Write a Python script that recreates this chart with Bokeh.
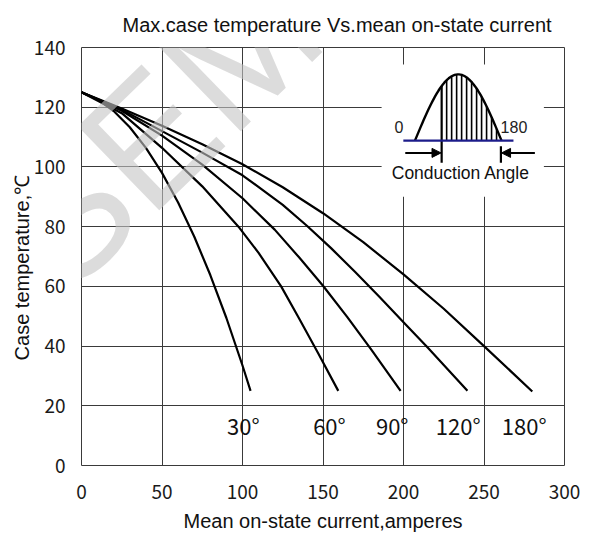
import numpy as np
from bokeh.plotting import figure
from bokeh.models import Range1d, Label, Arrow, NormalHead, FixedTicker
from bokeh.core.properties import value
from bokeh.embed import file_html
from bokeh.resources import INLINE

# ---------------- data ----------------
title_text = "Max.case temperature Vs.mean on-state current"
x_label = "Mean on-state current,amperes"
y_label = "Case temperature,\u2103"
x_ticks = [0, 50, 100, 150, 200, 250, 300]
y_ticks = [0, 20, 40, 60, 80, 100, 120, 140]

current_30 = [0, 10, 20, 30, 40, 50, 60, 70, 80, 90, 100, 105]
temp_30 = [125, 122.6, 118.7, 113.3, 106.4, 98, 88.1, 76.7, 63.8, 49.4, 33.5, 25]

current_60 = [0, 25, 50, 75, 97.5, 110, 124, 135, 147, 159.5]
temp_60 = [125, 118, 106.4, 93.5, 80, 71.2, 60, 49.4, 37.6, 25]

current_90 = [0, 25, 50, 75, 100, 120, 135, 150, 165, 180, 198.2]
temp_90 = [125, 118.8, 110.5, 100.8, 89.5, 79, 69.8, 60.2, 49.8, 38.8, 25]

current_120 = [0, 25, 50, 75, 100, 125, 140, 155, 170, 185, 200, 215, 239.7]
temp_120 = [125, 119.2, 112, 104.8, 97.2, 87.3, 80.3, 72.8, 64.8, 56.5, 48, 39.5, 25]

current_180 = [0, 25, 50, 75, 100, 125, 150, 175, 200, 225, 250, 280]
temp_180 = [125, 119.6, 113.8, 107.6, 100.9, 93.2, 84.5, 74.8, 64, 52.5, 40, 24.8]

curves = [(current_30, temp_30), (current_60, temp_60), (current_90, temp_90),
          (current_120, temp_120), (current_180, temp_180)]

angle_labels = ["30\u00b0", "60\u00b0", "90\u00b0", "120\u00b0", "180\u00b0"]
angle_label_x = [100.5, 154, 193, 234, 275]
angle_label_y = 13.5

# inset (conduction-angle sketch) geometry, in data units
inset_box = dict(left=186.4, right=287.2, bottom=90, top=134.3)
inset_base_y = 108.8
inset_wave_start = 207.1
inset_wave_end = 260.9
inset_wave_peak = 131.0
inset_fire_x = 223.7
inset_hatch_step = 3.1
inset_arrow_y = 104.7

# ---------------- figure ----------------
p = figure(width=582, height=534, output_backend="svg", toolbar_location=None,
           x_range=Range1d(0, 300), y_range=Range1d(0, 140),
           min_border_left=81, min_border_right=18, min_border_top=46,
           min_border_bottom=68)
p.background_fill_color = "white"
p.border_fill_color = "white"
p.outline_line_color = "#3a3a3a"
p.outline_line_width = 1

p.title.text = title_text
p.title.align = "left"
p.title.offset = 41
p.title.standoff = 23
p.title.text_font = "Liberation Sans"
p.title.text_font_size = "20px"
p.title.text_font_style = "normal"
p.title.text_color = "#111111"

p.xaxis.ticker = FixedTicker(ticks=x_ticks)
p.yaxis.ticker = FixedTicker(ticks=y_ticks)
p.xgrid.ticker = FixedTicker(ticks=x_ticks)
p.ygrid.ticker = FixedTicker(ticks=y_ticks)
for g in (p.xgrid, p.ygrid):
    g.grid_line_color = "#3a3a3a"
    g.grid_line_width = 1

for ax in (p.xaxis, p.yaxis):
    ax.axis_line_color = None
    ax.major_tick_line_color = None
    ax.minor_tick_line_color = None
    ax.major_tick_out = 0
    ax.major_tick_in = 0
    ax.major_label_text_font = "Noto Sans CJK KR"
    ax.major_label_text_font_size = "19px"
    ax.major_label_text_color = "#1a1a1a"
    ax.axis_label_text_font = "Liberation Sans"
    ax.axis_label_text_font_size = "20px"
    ax.axis_label_text_font_style = "normal"
    ax.axis_label_text_color = "#111111"

p.xaxis.axis_label = x_label
p.yaxis.axis_label = y_label + "\u00a0" * 4
p.xaxis.major_label_standoff = 19
p.yaxis.major_label_standoff = 16
p.xaxis.axis_label_standoff = 8
p.yaxis.axis_label_standoff = -2

# white panel behind the inset sketch
p.quad(left=[inset_box["left"]], right=[inset_box["right"]],
       bottom=[inset_box["bottom"]], top=[inset_box["top"]],
       fill_color="white", line_color=None)

# curves
for cx, cy in curves:
    p.line(cx, cy, line_color="black", line_width=2.2, line_join="round")

p.text(x=angle_label_x, y=[angle_label_y] * len(angle_labels), text=angle_labels,
       text_font=value("Noto Sans CJK KR"), text_font_size="22px",
       text_align="center", text_baseline="middle", text_color="#111111")

# ---------------- inset sketch ----------------
wave_x = np.linspace(inset_wave_start, inset_wave_end, 60)
amp = inset_wave_peak - inset_base_y
span = inset_wave_end - inset_wave_start
wave_y = inset_base_y + amp * np.sin(np.pi * (wave_x - inset_wave_start) / span)
hatch_x = inset_fire_x + inset_hatch_step * np.arange(1, 12)
hatch_top = inset_base_y + amp * np.sin(np.pi * (hatch_x - inset_wave_start) / span)
p.segment(x0=hatch_x, y0=[inset_base_y] * len(hatch_x), x1=hatch_x, y1=hatch_top,
          line_color="black", line_width=1.6)
fire_top = inset_base_y + amp * np.sin(np.pi * (inset_fire_x - inset_wave_start) / span)
p.segment(x0=[inset_fire_x, inset_wave_end - 0.4], y0=[inset_arrow_y - 3.3, inset_arrow_y - 3.3],
          x1=[inset_fire_x, inset_wave_end - 0.4], y1=[fire_top, inset_arrow_y + 2.2],
          line_color="black", line_width=2.2)
p.line(wave_x, wave_y, line_color="black", line_width=2.4)
p.line([199.9, 268.3], [inset_base_y, inset_base_y], line_color="#1c1c8a", line_width=2.4)
p.add_layout(Arrow(end=NormalHead(size=9, fill_color="black", line_color="black"),
                   x_start=201.1, y_start=inset_arrow_y, x_end=inset_fire_x - 0.4, y_end=inset_arrow_y,
                   line_width=2, line_color="black"))
p.add_layout(Arrow(end=NormalHead(size=9, fill_color="black", line_color="black"),
                   x_start=281.6, y_start=inset_arrow_y, x_end=inset_wave_end, y_end=inset_arrow_y,
                   line_width=2, line_color="black"))
p.add_layout(Label(x=197.1, y=113.3, text="0", text_font="Liberation Sans", text_font_size="16px",
                   text_align="center", text_baseline="middle", text_color="#222222"))
p.add_layout(Label(x=268.6, y=113.3, text="180", text_font="Liberation Sans", text_font_size="16px",
                   text_align="center", text_baseline="middle", text_color="#222222"))
p.add_layout(Label(x=235.6, y=98.1, text="Conduction Angle", text_font="Liberation Sans",
                   text_font_size="17.5px", text_align="center", text_baseline="middle",
                   text_color="#111111"))

# watermark overlay (inside the plotting frame)
p.add_layout(Label(x=-34, y=70, text="SEMI", text_font="Liberation Sans", text_font_size="170px",
                   angle=0.77, text_align="left", text_baseline="alphabetic",
                   text_color="#c4c4c4", text_alpha=0.6, level="overlay"))

open("out.html", "w").write(file_html(p, INLINE))
